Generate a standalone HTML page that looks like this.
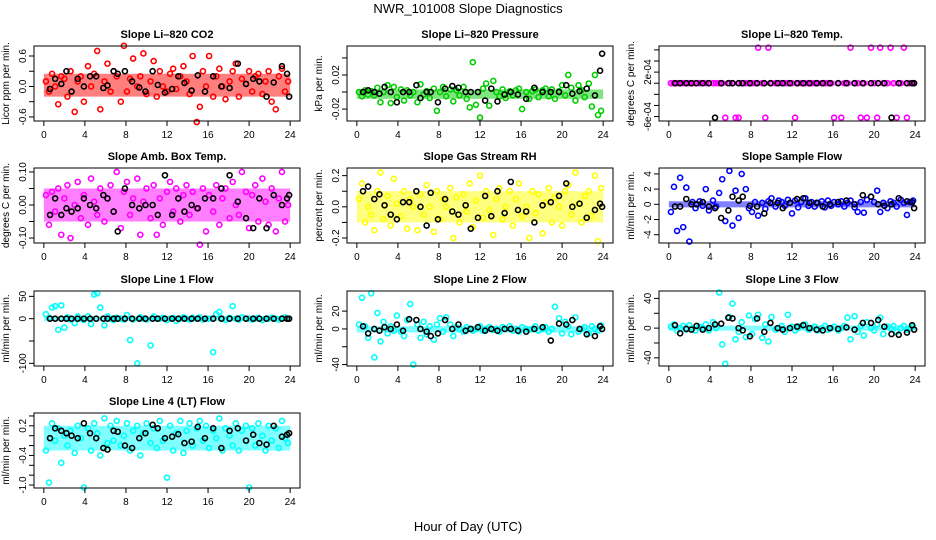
<!DOCTYPE html>
<html><head><meta charset="utf-8"><title>NWR_101008 Slope Diagnostics</title>
<style>
html,body{margin:0;padding:0;background:#fff;}
svg{display:block;font-family:"Liberation Sans",Arial,sans-serif;}
</style></head>
<body>
<svg id="chart" width="936" height="540" viewBox="0 0 936 540">
<text x="468" y="13" text-anchor="middle" font-size="13">NWR_101008  Slope Diagnostics</text>
<text x="468" y="531" text-anchor="middle" font-size="13">Hour of Day (UTC)</text>
</svg>
<script>
const hours=[0.2,0.5,0.8,1.1,1.4,1.7,2.0,2.3,2.6,3.0,3.3,3.6,3.9,4.3,4.6,4.9,5.2,5.5,5.9,6.2,6.5,6.8,7.1,7.5,7.8,8.1,8.4,8.7,9.1,9.4,9.7,10.0,10.4,10.7,11.0,11.3,11.6,12.0,12.3,12.6,12.9,13.3,13.6,13.9,14.2,14.5,14.9,15.2,15.5,15.8,16.1,16.5,16.8,17.1,17.4,17.7,18.1,18.4,18.7,19.0,19.3,19.7,20.0,20.3,20.6,20.9,21.3,21.6,21.9,22.2,22.6,22.9,23.2,23.5,23.8];
const blackHours=[0.6,1.1,1.7,2.2,2.7,3.3,3.9,4.5,5.1,5.8,6.2,6.8,7.2,7.9,8.6,9.3,9.9,10.6,11.1,11.8,12.5,13.1,13.7,14.4,15.0,15.7,16.5,17.3,18.1,18.9,19.7,20.4,21.0,21.7,22.4,23.2,23.7,23.9];
const xTicks=[0,4,8,12,16,20,24];

const co2Vals=[0.1,-0.1,0.25,0.0,-0.35,0.2,0.15,-0.2,0.3,-0.5,0.1,0.2,-0.3,0.4,0.0,0.25,0.7,-0.45,0.1,0.45,-0.1,0.3,0.2,-0.3,0.8,-0.1,0.15,0.55,0.0,0.2,0.65,-0.15,0.1,0.5,-0.2,0.3,0.0,-0.1,0.25,0.35,-0.05,0.2,0.4,0.1,-0.15,0.6,-0.7,-0.4,0.3,0.0,0.6,-0.2,0.2,0.35,0.0,-0.25,0.1,0.3,0.45,-0.2,0.15,0.05,0.3,-0.1,0.2,0.25,-0.15,0.1,0.3,-0.3,-0.45,0.2,0.35,-0.1,0.1];
const co2Black=[-0.05,0.15,0.05,0.3,-0.1,0.15,0.0,0.2,0.2,-0.03,0.02,0.3,0.25,0.3,0.1,-0.02,-0.1,0.3,0.03,-0.12,-0.05,0.2,0.07,-0.08,0.22,-0.1,0.2,0.0,-0.03,0.45,0.05,0.15,0.1,-0.2,0.08,0.4,0.25,-0.2];
const presVals=[0,-0.005,0.002,-0.003,0.001,-0.004,0.005,-0.012,0.0,0.008,-0.013,0.006,-0.006,0.003,-0.01,0.002,-0.004,0.0,-0.012,0.009,-0.003,0.001,-0.007,0.004,-0.022,0.0,0.006,-0.005,0.003,-0.011,0.002,-0.004,0.006,-0.008,-0.018,0.035,-0.015,-0.03,0.004,0.01,-0.016,0.013,0.0,-0.005,0.003,-0.007,0.001,-0.004,0.002,0.004,-0.02,0.0,-0.008,0.001,0.003,-0.006,0.002,0.004,-0.005,0.003,-0.008,0.001,0.008,-0.004,0.02,0.005,-0.01,0.008,0.002,-0.006,0.01,-0.017,0.02,-0.027,-0.022];
const presBlack=[0.0,0.002,0.0,-0.002,0.006,0.0,-0.012,0.0,0.0,0.008,-0.007,0.0,0.0,-0.012,0.004,0.007,0.005,0.0,0.0,0.0,-0.01,0.004,-0.011,-0.003,0.0,-0.003,-0.008,0.005,0.0,0.0,0.0,0.008,-0.002,0.001,0.004,-0.004,0.025,0.045];
const tempVals=[0,0,0,0,0,0,0,0,0,0,0,0,0,0,0,0,0,-6.2e-4,0,0,-6.2e-4,-6.2e-4,0,0,0,0,0,6.4e-4,0,-6.2e-4,6.4e-4,0,0,0,0,0,0,0,-6.2e-4,0,0,0,0,0,0,0,0,0,0,0,-6.2e-4,0,-6.2e-4,0,0,6.4e-4,0,0,-6.2e-4,0,-6.2e-4,6.4e-4,0,-6.2e-4,6.4e-4,0,0,6.4e-4,0,-6.2e-4,0,6.4e-4,-6.2e-4,0,0];
const tempBlack=[0,0,0,0,0,0,0,-6.2e-4,0,0,0,0,0,0,0,0,0,0,0,0,0,0,0,0,0,0,0,0,0,0,0,0,0,-6.2e-4,0,0,0,0];
const ambVals=[0.03,-0.06,0.04,-0.02,0.05,-0.09,0.02,0.06,-0.1,0.0,0.07,-0.04,0.03,-0.06,0.08,0.01,-0.03,0.05,-0.05,0.02,0.06,-0.02,0.1,-0.07,0.04,0.07,-0.03,0.02,0.08,-0.09,0.01,0.05,-0.04,0.06,-0.09,0.02,-0.06,0.04,0.07,-0.02,0.05,-0.05,0.03,0.06,-0.03,0.04,-0.01,-0.12,0.05,-0.08,0.03,-0.02,0.06,-0.06,0.02,0.05,-0.04,0.07,0.0,-0.03,0.1,0.04,-0.07,0.03,0.06,-0.05,0.08,0.01,-0.06,0.05,-0.08,0.02,0.1,-0.05,0.0];
const ambBlack=[-0.03,0.02,-0.03,-0.01,-0.02,-0.01,0.02,0.0,-0.01,0.03,0.02,-0.02,-0.08,0.05,0.0,-0.01,0.0,0.0,-0.03,0.09,-0.03,0.02,-0.02,0.0,-0.01,0.02,0.02,0.05,0.09,0.01,-0.04,-0.07,0.02,-0.07,0.03,0.0,0.02,0.03];
const rhVals=[0.05,0.15,-0.1,0.0,-0.05,-0.15,0.1,0.22,-0.08,0.07,-0.12,0.18,0.02,-0.06,0.1,-0.14,0.05,0.0,-0.15,0.08,-0.05,0.14,0.0,-0.16,0.1,-0.08,0.05,0.0,0.12,-0.2,0.06,-0.1,0.08,-0.03,0.15,-0.13,0.04,0.2,-0.07,0.1,-0.02,-0.18,0.05,0.12,-0.08,0.0,0.1,-0.12,0.05,0.15,-0.06,0.0,-0.2,0.1,-0.04,0.08,-0.17,0.03,0.12,-0.1,0.06,0.0,-0.12,0.1,0.14,-0.05,0.22,0.02,-0.1,0.07,0.1,-0.06,0.2,-0.22,0.12];
const rhBlack=[0.1,0.13,0.05,0.08,0.01,-0.05,-0.08,0.03,0.03,0.1,0.0,-0.12,0.09,-0.08,0.05,-0.03,-0.05,0.01,-0.14,-0.07,0.07,-0.06,0.1,-0.04,0.16,-0.02,-0.03,-0.1,0.01,0.03,0.07,0.15,0.0,0.02,-0.07,-0.02,0.02,0.0];
const flowVals=[-1.0,2.3,-3.5,3.5,-3.0,2.2,-4.9,0.3,-0.5,0.4,-0.2,2.0,-0.8,0.5,-0.3,1.5,3.3,-2.2,4.4,-2.8,1.8,-1.8,4.0,2.0,-0.5,-1.0,0.3,-1.5,0.2,-0.6,0.4,0.8,-0.3,0.5,0.3,-0.2,0.6,-1.2,0.5,-0.4,0.3,0.8,-0.2,0.3,-0.3,0.2,0.4,-0.4,0.5,-0.2,0.3,0.0,0.4,-0.3,0.2,0.5,-0.4,-1.0,0.3,-1.1,0.6,1.0,0.3,1.8,-1.0,0.2,-0.5,0.4,0.2,-0.3,0.6,0.2,-1.4,0.3,0.5];
const flowBlack=[-0.3,-0.3,0.7,0.0,0.0,0.3,-0.3,-0.5,-1.8,-0.8,1.0,0.5,1.0,-0.2,-0.3,-1.2,0.2,0.2,-0.5,0.2,0.7,0.8,0.2,0.2,-0.3,0.0,0.3,0.5,0.0,1.2,1.0,0.0,-0.2,0.0,0.8,0.4,0.3,-0.5];
const l1Vals=[10,2,25,28,-25,30,-20,3,-2,-10,5,0,-3,5,-12,54,57,25,-15,5,0,-3,2,0,-2,8,-48,-2,-100,3,0,-2,-60,5,0,0,2,-3,0,2,-5,0,3,0,-2,2,0,3,-2,0,0,-75,10,15,0,-3,2,28,0,-2,3,0,0,-2,0,2,-3,0,0,2,0,-2,0,3,0];
const l1Black=[0,0,0,0,0,0,0,0,0,0,0,0,0,0,0,0,0,0,0,0,0,0,0,0,0,0,0,0,0,0,0,0,0,0,0,0,0,0];
const l2Vals=[5,35,3,-10,40,-32,18,-14,8,-5,3,-2,15,-3,-8,10,28,-40,5,-10,8,-6,3,-12,5,12,-3,13,5,-8,2,0,-3,2,0,-2,0,3,-2,0,2,-1,0,-3,2,0,3,-2,0,-3,2,0,-1,0,3,-2,0,2,-3,0,25,12,-5,8,3,-6,13,-3,0,2,-5,3,0,-2,4];
const l2Black=[3,-5,0,-2,2,0,5,-2,11,10,0,-3,-8,-5,10,0,5,-2,0,2,-2,0,-2,0,0,-2,-3,0,2,-13,6,5,10,0,-6,-8,3,0];
const l3Vals=[2,5,-3,0,3,-2,4,0,-3,2,0,5,-3,8,0,48,-22,-48,15,33,-15,-5,8,-12,17,-8,12,18,-13,5,-18,15,-2,0,3,-5,18,2,-3,0,3,5,-2,0,2,-3,0,3,-2,0,2,-3,0,3,14,-15,16,-5,3,-10,8,0,-3,5,14,-8,2,0,3,-5,0,3,-2,0,2];
const l3Black=[4,-7,-1,-2,3,-2,0,5,6,14,13,0,-3,-11,13,-5,7,0,-2,0,2,4,0,-2,-3,0,-1,1,-2,7,7,11,2,-8,-9,-6,4,-2];
const l4Vals=[-0.3,-0.95,0.25,-0.1,0.15,-0.55,0.0,-0.2,0.1,-0.35,0.2,-0.05,-1.05,0.15,-0.3,0.25,0.05,-0.4,0.35,-0.15,0.2,-0.1,0.3,-0.2,0.0,0.25,-0.3,0.1,0.2,-0.4,0.05,0.25,-0.15,0.15,-0.25,0.3,-0.1,-0.85,0.2,-0.3,0.05,0.3,-0.35,0.1,0.25,-0.2,0.15,0.3,-0.1,0.2,-0.25,0.1,-0.05,0.35,-0.3,0.15,0.0,-0.2,0.25,-0.3,0.1,0.2,-1.05,0.15,-0.2,0.25,0.0,-0.3,0.2,-0.1,0.15,-0.25,0.3,-0.05,-0.15];
const l4Black=[-0.05,0.15,0.1,0.05,0.0,-0.05,0.25,0.05,-0.05,-0.25,-0.28,0.1,0.08,-0.2,-0.25,-0.05,0.05,0.22,0.15,-0.05,-0.02,0.03,-0.15,-0.12,0.18,-0.05,0.15,-0.25,0.1,0.15,-0.1,0.02,-0.15,-0.18,0.2,-0.02,0.02,0.05];

const panels=[
 {id:'co2',title:'Slope Li\u2013820 CO2',row:0,col:0,ylab:'Licor ppm per min.',dom:[-0.68,0.797],ticks:[-0.6,-0.3,0,0.3,0.6],labels:['-0.6','','0.0','','0.6'],color:'#ff0000',ys:co2Vals,bys:co2Black,band:[-0.2,0.25]},
 {id:'pressure',title:'Slope Li\u2013820 Pressure',row:0,col:1,ylab:'kPa per min.',dom:[-0.034,0.054],ticks:[-0.02,0,0.02,0.04],labels:['-0.02','','0.02',''],color:'#00cd00',ys:presVals,bys:presBlack,band:[-0.008,0.003]},
 {id:'temp',title:'Slope Li\u2013820 Temp.',row:0,col:2,ylab:'degrees C per min.',dom:[-6.8e-4,6.7e-4],ticks:[-6e-4,-4e-4,-2e-4,0,2e-4,4e-4,6e-4],labels:['-6e-04','','','','2e-04','',''],color:'#ff00ff',ys:tempVals,bys:tempBlack,band:[-1e-5,1e-5]},
 {id:'amb-box-temp',title:'Slope Amb. Box Temp.',row:1,col:0,ylab:'degrees C per min.',dom:[-0.115,0.112],ticks:[-0.1,-0.05,0,0.05,0.1],labels:['-0.10','','0.00','','0.10'],color:'#ff00ff',ys:ambVals,bys:ambBlack,band:[-0.05,0.05]},
 {id:'gas-rh',title:'Slope Gas Stream RH',row:1,col:1,ylab:'percent per min.',dom:[-0.232,0.249],ticks:[-0.2,-0.1,0,0.1,0.2],labels:['-0.2','','0.0','','0.2'],color:'#ffff00',ys:rhVals,bys:rhBlack,band:[-0.1,0.1]},
 {id:'sample-flow',title:'Slope Sample Flow',row:1,col:2,ylab:'ml/min per min.',dom:[-5.09,4.78],ticks:[-4,-2,0,2,4],labels:['-4','-2','0','2','4'],color:'#0000ff',ys:flowVals,bys:flowBlack,band:[-0.4,0.4]},
 {id:'line1-flow',title:'Slope Line 1 Flow',row:2,col:0,ylab:'ml/min per min.',dom:[-106,62],ticks:[-100,-50,0,50],labels:['-100','','0','50'],color:'#00ffff',ys:l1Vals,bys:l1Black,band:[-3,3]},
 {id:'line2-flow',title:'Slope Line 2 Flow',row:2,col:1,ylab:'ml/min per min.',dom:[-41.6,42.6],ticks:[-40,-20,0,20],labels:['-40','','0','20'],color:'#00ffff',ys:l2Vals,bys:l2Black,band:[-4,3]},
 {id:'line3-flow',title:'Slope Line 3 Flow',row:2,col:2,ylab:'ml/min per min.',dom:[-51,50],ticks:[-40,-20,0,20,40],labels:['-40','','0','','40'],color:'#00ffff',ys:l3Vals,bys:l3Black,band:[-3,3]},
 {id:'line4-flow',title:'Slope Line 4 (LT) Flow',row:3,col:0,ylab:'ml/min per min.',dom:[-1.06,0.46],ticks:[-1.0,-0.8,-0.6,-0.4,-0.2,0,0.2,0.4],labels:['-1.0','','','-0.4','','','0.2',''],color:'#00ffff',ys:l4Vals,bys:l4Black,band:[-0.3,0.2]}
];

const NS='http://www.w3.org/2000/svg';
const svg=document.getElementById('chart');
const colX=[34,347,659], rowY=[46,168,291,413], W=266, H=75;
function mk(tag,attrs,parent){const e=document.createElementNS(NS,tag);for(const k in attrs)e.setAttribute(k,attrs[k]);(parent||svg).appendChild(e);return e;}

panels.forEach(p=>{
  const x0=colX[p.col], y0=rowY[p.row];
  const g=mk('g',{});
  
  
  const sx=h=>x0+(h+0.96)/25.92*W;
  const sy=v=>y0+H-(v-p.dom[0])/(p.dom[1]-p.dom[0])*H;
  const t=mk('text',{x:x0+W/2,y:y0-8,'text-anchor':'middle','font-size':'11','font-weight':'bold'},g);
  t.textContent=p.title;
  
  
  const yl=mk('text',{transform:`translate(${x0-25},${y0+H/2}) rotate(-90)`,'text-anchor':'middle','font-size':'10'},g);
  yl.textContent=p.ylab;
  
  
  let by1=sy(p.band[1]), by0=sy(p.band[0]);
  if(by0-by1<5){const c=(by0+by1)/2;by1=c-2.5;by0=c+2.5;}
  const band=mk('rect',{x:sx(0),y:by1,width:sx(24)-sx(0),height:by0-by1,fill:p.color,opacity:0.5},g);
  
  
  const n=Math.min(hours.length,p.ys.length);
  for(let i=0;i<n;i++){
    const c=mk('circle',{cx:sx(hours[i]),cy:sy(p.ys[i]),r:2.5,fill:'none',stroke:p.color,'stroke-width':1.6},g);
    
    
  }
  const m=Math.min(blackHours.length,p.bys.length);
  for(let i=0;i<m;i++){
    const c=mk('circle',{cx:sx(blackHours[i]),cy:sy(p.bys[i]),r:2.5,fill:'none',stroke:'#000','stroke-width':1.6},g);
    
    
  }
  const box=mk('rect',{x:x0,y:y0,width:W,height:H,fill:'none',stroke:'#000','stroke-width':1},g);
  
  
  xTicks.forEach(h=>{
    mk('line',{x1:sx(h),x2:sx(h),y1:y0+H,y2:y0+H+5,stroke:'#000'},g);
    const l=mk('text',{x:sx(h),y:y0+H+17,'text-anchor':'middle','font-size':'10'},g);
    l.textContent=h;
    
    
  });
  p.ticks.forEach((v,i)=>{
    mk('line',{x1:x0-5,x2:x0,y1:sy(v),y2:sy(v),stroke:'#000'},g);
    if(p.labels[i]){
      const l=mk('text',{transform:`translate(${x0-8},${sy(v)}) rotate(-90)`,'text-anchor':'middle','font-size':'10'},g);
      l.textContent=p.labels[i];
      
      
    }
  });
});
</script>
</body></html>
